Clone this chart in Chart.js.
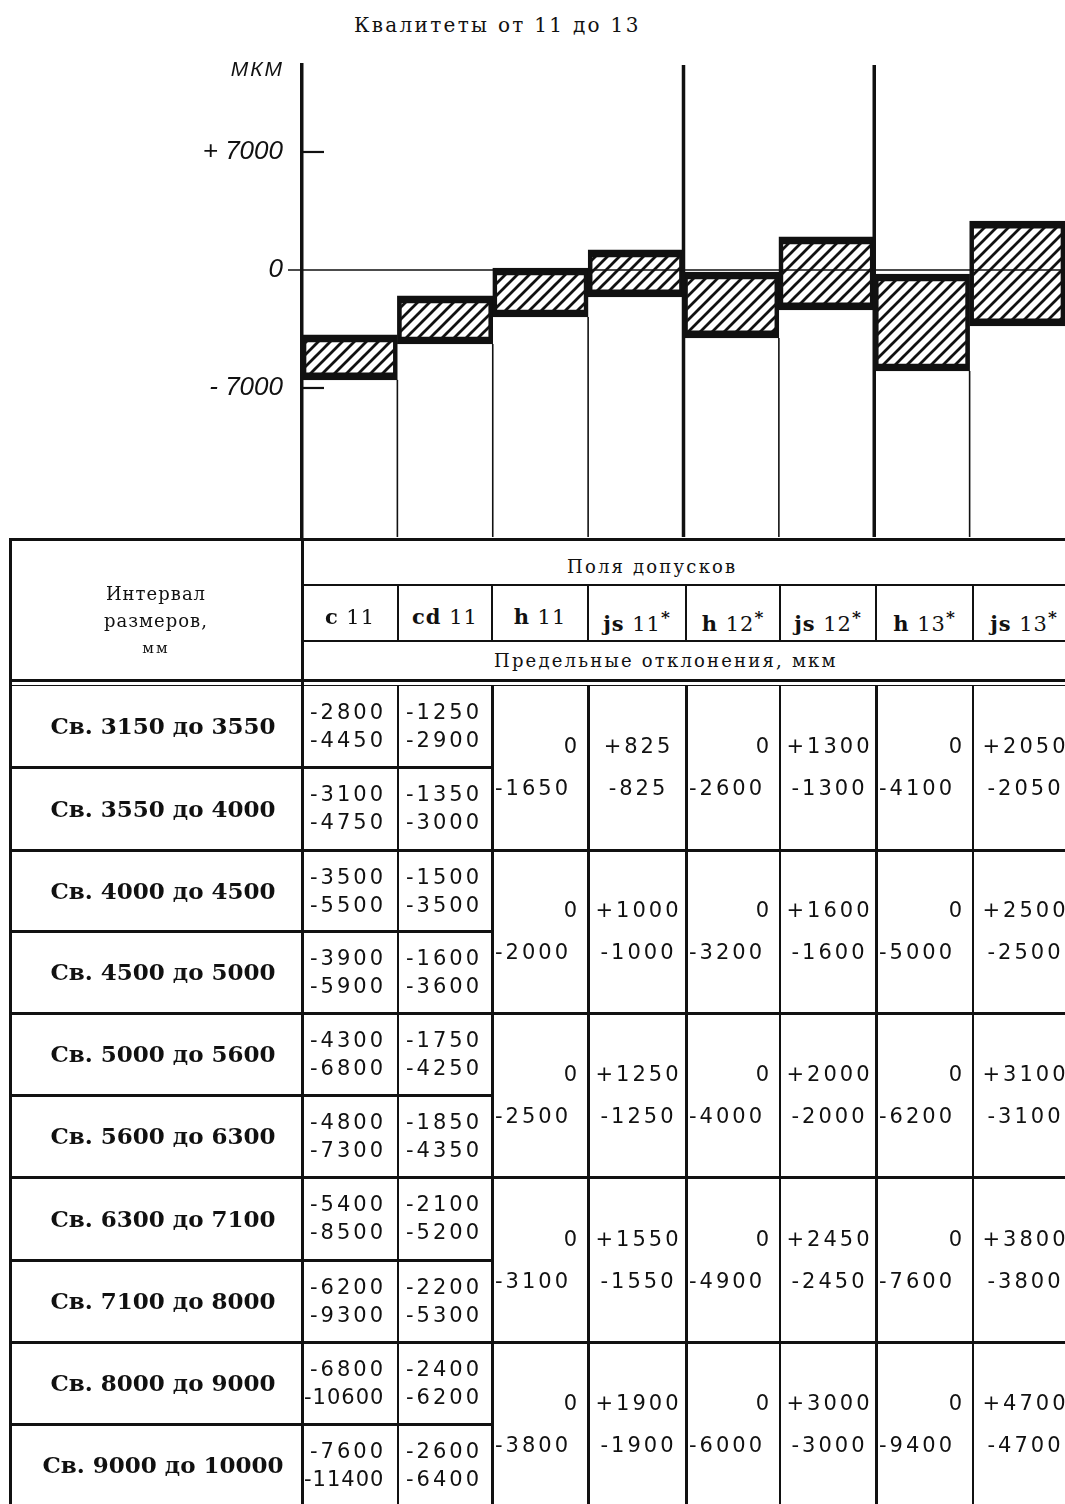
<!DOCTYPE html>
<html>
<head>
<meta charset="utf-8">
<script src="https://cdn.jsdelivr.net/npm/chart.js@4.4.1/dist/chart.umd.min.js"></script>
<style>
html, body { margin: 0; padding: 0; background: #fff; }
body { width: 1065px; height: 1504px; position: relative; overflow: hidden; color: #111; }
#title { position: absolute; top: 13px; left: 354px; font: 20px "DejaVu Serif"; letter-spacing: 2.3px; white-space: nowrap; }
#chartBox { position: absolute; left: 0; top: 0; width: 1065px; height: 540px; }
.ln { position: absolute; background: #111; }
.t { position: absolute; white-space: nowrap; height: 30px; line-height: 30px; box-sizing: border-box; }
.num { font-family: "DejaVu Sans"; font-size: 21px; letter-spacing: 3px; }
.hdr { font-family: "DejaVu Serif"; font-size: 18px; letter-spacing: 2.2px; }
.iv { font-family: "DejaVu Serif"; font-weight: bold; font-size: 23px; }
.nm { font-family: "DejaVu Serif"; font-size: 21px; letter-spacing: 1px; }
.nm sup { font-weight: bold; font-size: 17px; }
</style>
</head>
<body>
<div id="title">Квалитеты от 11 до 13</div>
<div id="chartBox"><canvas id="chart"></canvas></div>
<div id="tbl"></div>
<script>
// Chart data (upper / lower edges of each tolerance field)
const categories = ['c 11', 'cd 11', 'h 11', 'js 11*', 'h 12*', 'js 12*', 'h 13*', 'js 13*'];
const barTops    = [-3850, -1540,   120,  1190,  -120,  1960,  -240,  2900];
const barBottoms = [-6520, -4390, -2790, -1600, -4030, -2370, -5990, -3320];
const yTickValues = [-7000, 0, 7000];
const yTickLabels = ['- 7000', '0', '+ 7000'];

// Table data
const intervals = [
    'Св. 3150 до 3550', 'Св. 3550 до 4000', 'Св. 4000 до 4500', 'Св. 4500 до 5000',
    'Св. 5000 до 5600', 'Св. 5600 до 6300', 'Св. 6300 до 7100', 'Св. 7100 до 8000',
    'Св. 8000 до 9000', 'Св. 9000 до 10000'
];
const c11Upper  = [-2800, -3100, -3500, -3900, -4300, -4800, -5400, -6200, -6800, -7600];
const c11Lower  = [-4450, -4750, -5500, -5900, -6800, -7300, -8500, -9300, -10600, -11400];
const cd11Upper = [-1250, -1350, -1500, -1600, -1750, -1850, -2100, -2200, -2400, -2600];
const cd11Lower = [-2900, -3000, -3500, -3600, -4250, -4350, -5200, -5300, -6200, -6400];
const h11Lower  = [-1650, -2000, -2500, -3100, -3800];
const js11      = [825, 1000, 1250, 1550, 1900];
const h12Lower  = [-2600, -3200, -4000, -4900, -6000];
const js12      = [1300, 1600, 2000, 2450, 3000];
const h13Lower  = [-4100, -5000, -6200, -7600, -9400];
const js13      = [2050, 2500, 3100, 3800, 4700];

// Hatch pattern for the bars
function makeHatch() {
    const s = 12;
    const p = document.createElement('canvas');
    p.width = s; p.height = s;
    const g = p.getContext('2d');
    g.strokeStyle = '#111';
    g.lineWidth = 2.8;
    g.beginPath();
    g.moveTo(-s / 2, s / 2); g.lineTo(s / 2, -s / 2);
    g.moveTo(0, s); g.lineTo(s, 0);
    g.moveTo(s / 2, s * 1.5); g.lineTo(s * 1.5, s / 2);
    g.stroke();
    return g.createPattern(p, 'repeat');
}

// Axis extras: zero line, tick marks, column dividers, unit label
const schemeLines = {
    id: 'schemeLines',
    afterDraw(chart) {
        const { ctx, chartArea: a, scales: { x, y } } = chart;
        ctx.save();
        ctx.strokeStyle = '#111';
        ctx.fillStyle = '#111';

        const y0 = y.getPixelForValue(0);
        ctx.lineWidth = 1.6;
        ctx.beginPath(); ctx.moveTo(a.left - 14, y0); ctx.lineTo(a.right, y0); ctx.stroke();

        ctx.lineWidth = 2.2;
        yTickValues.forEach(v => {
            if (v === 0) return;
            const py = y.getPixelForValue(v);
            ctx.beginPath(); ctx.moveTo(a.left, py); ctx.lineTo(a.left + 22, py); ctx.stroke();
        });

        for (let i = 1; i < categories.length; i++) {
            const px = (x.getPixelForValue(i - 1) + x.getPixelForValue(i)) / 2;
            ctx.beginPath();
            if (i === 4 || i === 6) {
                ctx.lineWidth = 3.5;
                ctx.moveTo(px, a.top);
            } else {
                ctx.lineWidth = 1.6;
                ctx.moveTo(px, y.getPixelForValue(Math.min(barBottoms[i - 1], barBottoms[i])));
            }
            ctx.lineTo(px, a.bottom);
            ctx.stroke();
        }

        ctx.font = 'italic 21px "Liberation Sans"';
        ctx.letterSpacing = '2px';
        ctx.textAlign = 'right';
        ctx.textBaseline = 'middle';
        ctx.fillText('МКМ', 284, 70);
        ctx.restore();
    }
};

new Chart(document.getElementById('chart'), {
    type: 'bar',
    data: {
        labels: categories,
        datasets: [{
            data: categories.map((_, i) => [barBottoms[i], barTops[i]]),
            backgroundColor: makeHatch(),
            borderColor: '#111',
            borderWidth: { top: 7, bottom: 7, left: 4, right: 4 },
            borderSkipped: false,
            barPercentage: 1,
            categoryPercentage: 1
        }]
    },
    options: {
        responsive: true,
        maintainAspectRatio: false,
        animation: false,
        events: [],
        layout: { padding: { top: 65, bottom: 3, left: 0, right: 0 } },
        plugins: { legend: { display: false }, tooltip: { enabled: false } },
        scales: {
            x: { display: false },
            y: {
                min: -15840,
                max: 12160,
                afterBuildTicks: s => { s.ticks = yTickValues.map(v => ({ value: v })); },
                afterFit: s => { s.width = 302; s.paddingTop = 0; s.paddingBottom = 0; },
                grid: { display: false, drawTicks: false },
                border: { display: true, color: '#111', width: 3.5 },
                ticks: {
                    color: '#111',
                    padding: 19,
                    font: { family: 'Liberation Sans', style: 'italic', size: 26 },
                    callback: v => yTickLabels[yTickValues.indexOf(v)]
                }
            }
        }
    },
    plugins: [schemeLines]
});

// ---- Table ----
const tbl = document.getElementById('tbl');
const X = [10, 302, 398, 492, 588, 686, 780, 876, 973, 1075];
const ROW = [685, 767, 850, 931, 1013, 1095, 1177, 1260, 1342, 1424, 1506];

function line(x1, y1, x2, y2, w) {
    const d = document.createElement('div');
    d.className = 'ln';
    if (y1 === y2) {
        d.style.left = x1 + 'px'; d.style.top = (y1 - w / 2) + 'px';
        d.style.width = (x2 - x1) + 'px'; d.style.height = w + 'px';
    } else {
        d.style.left = (x1 - w / 2) + 'px'; d.style.top = y1 + 'px';
        d.style.width = w + 'px'; d.style.height = (y2 - y1) + 'px';
    }
    tbl.appendChild(d);
}

function text(html, x1, x2, yc, cls, align, pad) {
    const d = document.createElement('div');
    d.className = 't ' + cls;
    d.style.left = x1 + 'px';
    d.style.width = (x2 - x1) + 'px';
    d.style.top = (yc - 15) + 'px';
    d.style.textAlign = align;
    if (align === 'left') d.style.paddingLeft = (pad || 0) + 'px';
    if (align === 'right') d.style.paddingRight = (pad || 0) + 'px';
    if (align === 'center') d.style.paddingLeft = (pad || 0) + 'px';
    d.innerHTML = html;
    tbl.appendChild(d);
    return d;
}

const fmt = v => v > 0 ? '+' + v : (v < 0 ? '-' + Math.abs(v) : '0');

// frame of the header
line(10, 539, 1075, 539, 3);
line(302, 585, 1075, 585, 2);
line(302, 641, 1075, 641, 2);
line(10, 680, 1075, 680, 3);
line(10, 685.5, 1075, 685.5, 1.5);
line(10, 538, 10, 1506, 3);
line(302, 538, 302, 1506, 3);
for (let c = 2; c < X.length - 1; c++) {
    const w = (c === 2 || c === 6 || c === 8) ? 2 : 3;
    line(X[c], 585, X[c], 641, 2);
    line(X[c], 685, X[c], 1506, w);
}
for (let r = 1; r < ROW.length - 1; r++) {
    if (r % 2 === 1) line(10, ROW[r], X[3], ROW[r], 3);
    else line(10, ROW[r], 1075, ROW[r], 3);
}

// header texts
text('Интервал', X[0], X[1], 594, 'hdr', 'center').style.letterSpacing = '1px';
text('размеров,', X[0], X[1], 621, 'hdr', 'center').style.letterSpacing = '1px';
text('мм', X[0], X[1], 648, 'hdr', 'center').style.fontSize = '15px';
text('Поля допусков', 567, 900, 567, 'hdr', 'left');
text('Предельные отклонения, мкм', 494, 1000, 661, 'hdr', 'left');
categories.forEach((name, i) => {
    const m = name.match(/^([a-z]+) (\d+)(\*?)$/);
    const html = '<b>' + m[1] + '</b> ' + m[2] + (m[3] ? '<sup>*</sup>' : '');
    text(html, X[i + 1], X[i + 2], 617, 'nm', 'center');
});

// body: one row per interval for c11 / cd11
intervals.forEach((iv, r) => {
    const top = ROW[r], bot = ROW[r + 1];
    text(iv, X[0], X[1], (top + bot) / 2, 'iv', 'center', 14);
    [[c11Upper, c11Lower], [cd11Upper, cd11Lower]].forEach((pair, k) => {
        [pair[0][r], pair[1][r]].forEach((v, j) => {
            const s = fmt(v);
            const d = text(s, X[k + 1], X[k + 2], top + 27 + j * 28, 'num', 'left', s.length > 5 ? 2 : 8);
            if (s.length > 5) d.style.letterSpacing = '1px';
        });
    });
});

// body: merged cells for h / js columns
const merged = [[h11Lower, js11], [h12Lower, js12], [h13Lower, js13]];
for (let p = 0; p < 5; p++) {
    const mid = ROW[2 * p + 1];
    merged.forEach((pair, k) => {
        const hc = 3 + k * 2;
        text('0', X[hc], X[hc + 1], mid - 21, 'num', 'right', 8);
        text(fmt(pair[0][p]), X[hc], X[hc + 1], mid + 21, 'num', 'left', 3);
        text(fmt(pair[1][p]), X[hc + 1], X[hc + 2], mid - 21, 'num', 'center', 3);
        text(fmt(-pair[1][p]), X[hc + 1], X[hc + 2], mid + 21, 'num', 'center', 3);
    });
}
</script>
</body>
</html>
